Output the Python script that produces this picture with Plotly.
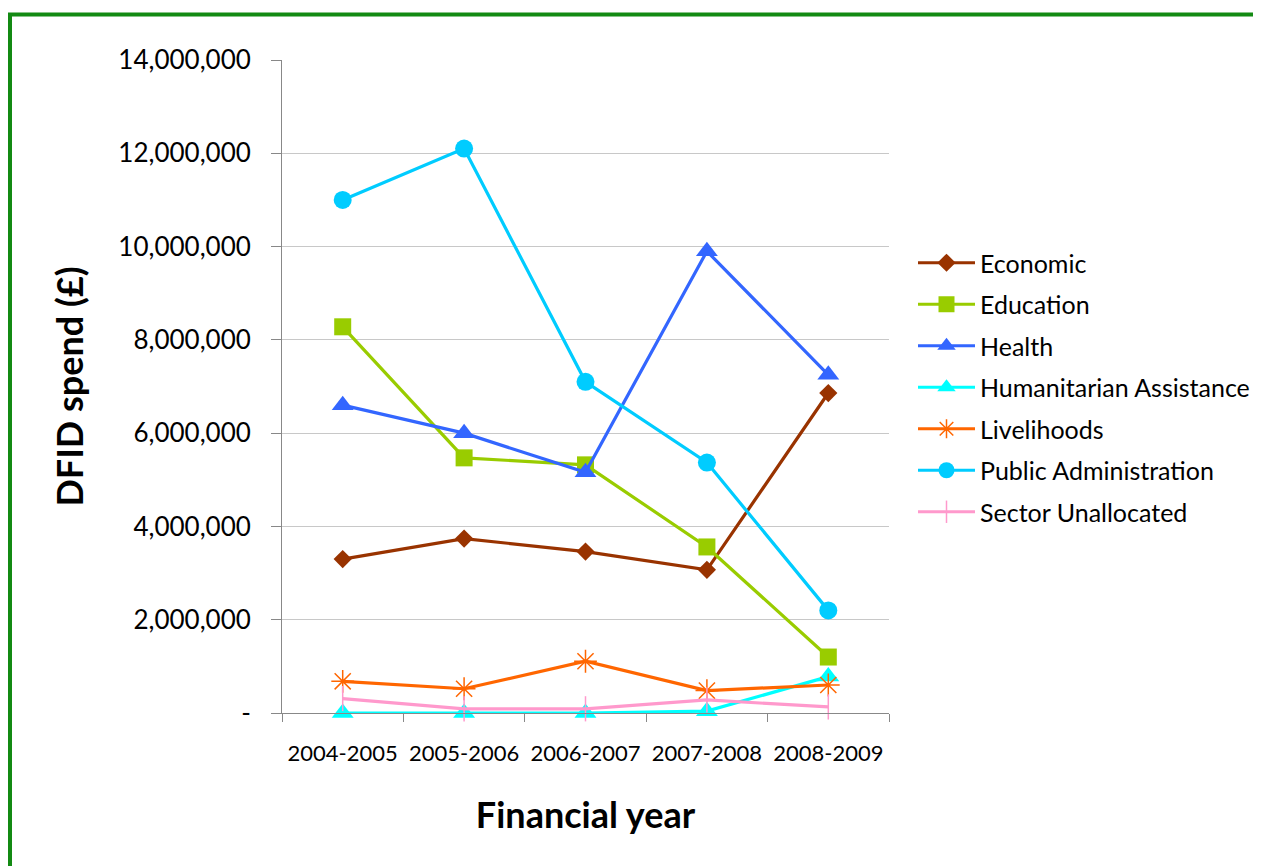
import plotly.graph_objects as go

years = ["2004-2005", "2005-2006", "2006-2007", "2007-2008", "2008-2009"]

economic = [3300000, 3740000, 3460000, 3070000, 6860000]
education = [8280000, 5470000, 5320000, 3560000, 1200000]
health = [6600000, 6000000, 5160000, 9900000, 7250000]
humanitarian = [0, 0, 0, 40000, 780000]
livelihoods = [680000, 520000, 1110000, 480000, 600000]
public_admin = [11000000, 12100000, 7100000, 5370000, 2200000]
sector_unallocated = [310000, 90000, 90000, 280000, 130000]

y_ticks = [0, 2000000, 4000000, 6000000, 8000000, 10000000, 12000000, 14000000]
y_tick_labels = ["-", "2,000,000", "4,000,000", "6,000,000", "8,000,000",
                 "10,000,000", "12,000,000", "14,000,000"]

series = [
    ("Economic", economic, "#993300", "diamond", 14, 0),
    ("Education", education, "#99CC00", "square", 17, 0),
    ("Health", health, "#3366FF", "triangle-up", 19, 0),
    ("Humanitarian Assistance", humanitarian, "#00FFFF", "triangle-up", 19, 0),
    ("Livelihoods", livelihoods, "#FF6600", "asterisk-open", 19, 1.5),
    ("Public Administration", public_admin, "#00CCFF", "circle", 18, 0),
    ("Sector Unallocated", sector_unallocated, "#FF99CC", "line-ns-open", 18, 1.5),
]

FONT = "Lato, sans-serif"

# plot area in figure pixels (the page adds an 8px body margin)
L, R, T, B = 274, 881, 52, 705
W, H = 1261, 866
PW, PH = R - L, B - T

fig = go.Figure()
for i, (name, vals, color, symbol, size, lw) in enumerate(series):
    marker = dict(symbol=symbol, size=size, color=color)
    if lw:
        marker["line"] = dict(color=color, width=lw)
    else:
        marker["line"] = dict(width=0)
    fig.add_trace(go.Scatter(
        x=years, y=vals, name=name, mode="lines+markers",
        line=dict(color=color, width=3.2),
        marker=marker, legendgroup=f"g{i}", cliponaxis=False,
    ))

fig.update_layout(
    width=W, height=H,
    margin=dict(l=L, r=W - R, t=T, b=H - B, autoexpand=False),
    paper_bgcolor="white", plot_bgcolor="white",
    font=dict(family=FONT, color="black"),
    showlegend=True,
    legend=dict(
        xref="container", yref="container",
        x=905 / W, y=1 - 232 / H, xanchor="left", yanchor="top",
        font=dict(size=25, family=FONT),
        tracegroupgap=6, itemwidth=57,
        bgcolor="rgba(0,0,0,0)",
    ),
    xaxis=dict(
        type="category", range=[-0.5, 4.5],
        showline=True, linecolor="#888888", linewidth=1,
        ticks="outside", tickson="boundaries", ticklen=8, tickcolor="#888888",
        showgrid=False, tickangle=0,
        tickfont=dict(size=22, family=FONT),
        ticklabelstandoff=21,
        title=dict(text="<b>Financial year</b>", font=dict(size=36, family=FONT), standoff=37),
    ),
    yaxis=dict(
        range=[0, 14000000],
        tickvals=y_ticks, ticktext=y_tick_labels,
        showline=True, linecolor="#888888", linewidth=1,
        ticks="outside", ticklen=10, tickcolor="#888888",
        showgrid=True, gridcolor="#C8C8C8", gridwidth=1,
        zeroline=False,
        tickfont=dict(size=26, family=FONT),
        ticklabelstandoff=15,
        title=dict(text="<b>DFID spend (£)</b>", font=dict(size=36, family=FONT), standoff=23),
    ),
)

# green frame around the chart (extends beyond the right/bottom edges)
fig.add_shape(
    type="rect", xref="paper", yref="paper",
    x0=(2 - L) / PW, x1=(1275 - L) / PW,
    y0=-(880 - B) / PH, y1=1 + (T - 6.5) / PH,
    line=dict(color="#138A13", width=4), layer="below",
)

fig.write_html("out.html")
